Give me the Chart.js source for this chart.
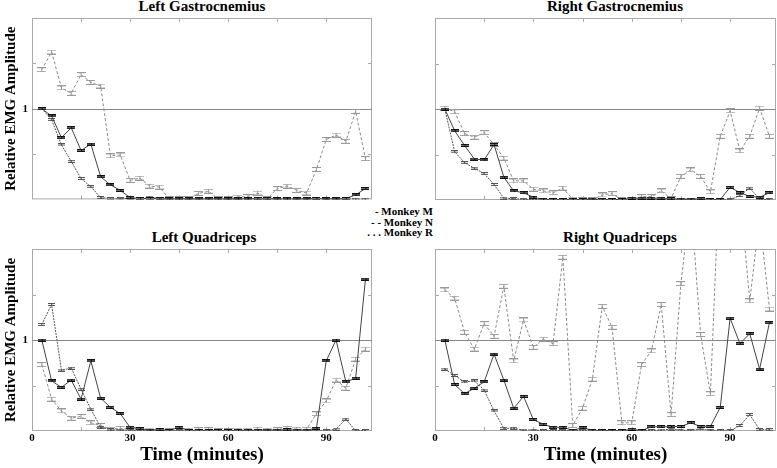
<!DOCTYPE html>
<html>
<head>
<meta charset="utf-8">
<script src="https://cdn.jsdelivr.net/npm/chart.js@4.4.0/dist/chart.umd.min.js"></script>
<style>
body{margin:0;background:#fff;width:777px;height:468px;overflow:hidden;position:relative;font-family:"Liberation Serif","Times New Roman",serif;font-weight:bold;color:#000;}
canvas{position:absolute;}
.titulo{position:absolute;font-size:15px;line-height:15px;white-space:nowrap;transform:translateX(-50%);}
#leyenda{position:absolute;right:344px;top:206px;font-size:11px;line-height:10.5px;text-align:right;white-space:nowrap;}
</style>
</head>
<body>
<div class="titulo" style="left:202px;top:-1px">Left Gastrocnemius</div>
<div class="titulo" style="left:615px;top:-1px">Right Gastrocnemius</div>
<div class="titulo" style="left:204px;top:230px">Left Quadriceps</div>
<div class="titulo" style="left:620px;top:230px">Right Quadriceps</div>
<div id="leyenda">- Monkey M<br>- - Monkey N<br>. . . Monkey R</div>
<canvas id="cLG" width="380" height="210" style="left:0;top:0"></canvas>
<canvas id="cRG" width="377" height="210" style="left:400px;top:0"></canvas>
<canvas id="cLQ" width="380" height="238" style="left:0;top:230px"></canvas>
<canvas id="cRQ" width="377" height="238" style="left:400px;top:230px"></canvas>
<script>
var minutos = [3,6,9,12,15,18,21,24,27,30,33,36,39,42,45,48,51,54,57,60,63,66,69,72,75,78,81,84,87,90,93,96,99,102];
var marcasX = [15,30,45,60,75,90];
var marcasY = [0.5,1.5];
var etiquetasX = [0,30,60,90];
var etiquetasY = [1];
var lineaRef = 1;

var leftGastroM = [1.00,0.92,0.68,0.79,0.54,0.61,0.25,0.16,0.10,0.02,0.01,0.01,0.01,0.005,0.005,0.005,0.005,0.005,0.005,0.005,0.005,0.005,0.01,0.01,0.005,0.005,0.005,0.005,0.01,0.005,0.005,0.01,0.05,0.12];
var leftGastroN = [1.43,1.625,1.23,1.17,1.375,1.29,1.25,0.48,0.49,0.21,0.235,0.147,0.136,0.005,0.005,0.01,0.066,0.09,0.005,0.005,0.025,0.03,0.07,0.01,0.12,0.147,0.10,0.07,0.33,0.66,0.71,0.64,0.97,0.45];
var leftGastroR = [1.00,0.88,0.60,0.42,0.23,0.14,0.02,0.01,0.005,0.015,0.005,0.025,0.005,0.003,0.003,0.003,0.003,0.003,0.003,0.003,0.003,0.003,0.003,0.003,0.003,0.003,0.003,0.005,0.01,0.01,0.005,0.003,0.003,0.003];

var rightGastroM = [1.00,0.76,0.60,0.45,0.44,0.61,0.25,0.10,0.08,0.03,0.007,0.005,0.005,0.005,0.005,0.01,0.005,0.005,0.005,0.02,0.02,0.02,0.02,0.015,0.01,0.01,0.015,0.005,0.005,0.14,0.08,0.04,0.03,0.08];
var rightGastroN = [1.01,0.97,0.73,0.69,0.74,0.61,0.46,0.21,0.21,0.12,0.10,0.08,0.13,0.01,0.003,0.003,0.055,0.07,0.003,0.003,0.037,0.037,0.10,0.015,0.26,0.33,0.26,0.09,0.70,0.98,0.54,0.70,1.01,0.70];
var rightGastroR = [1.00,0.53,0.41,0.35,0.29,0.17,0.02,0.015,0.007,0.005,0.003,0.003,0.005,0.005,0.003,0.003,0.005,0.003,0.003,0.003,0.005,0.005,0.01,0.005,0.005,0.005,0.005,0.005,0.003,0.003,0.05,0.13,0.01,0.003];

var leftQuadM = [1.00,0.55,0.48,0.56,0.35,0.77,0.36,0.26,0.19,0.04,0.026,0.01,0.015,0.005,0.04,0.005,0.005,0.005,0.005,0.005,0.008,0.008,0.008,0.01,0.01,0.015,0.01,0.01,0.03,0.77,1.00,0.54,0.58,1.67];
var leftQuadN = [0.73,0.35,0.22,0.14,0.16,0.09,0.06,0.02,0.03,0.02,0.015,0.01,0.01,0.005,0.005,0.01,0.015,0.015,0.005,0.005,0.01,0.01,0.02,0.01,0.015,0.03,0.02,0.02,0.19,0.33,0.56,0.47,0.79,0.90];
var leftQuadR = [1.17,1.39,0.67,0.69,0.46,0.24,0.04,0.015,0.01,0.008,0.005,0.003,0.003,0.003,0.003,0.003,0.003,0.003,0.003,0.003,0.003,0.003,0.003,0.003,0.003,0.003,0.003,0.003,0.003,0.003,0.02,0.13,0.003,0.005];

var rightQuadM = [1.00,0.51,0.41,0.47,0.54,0.845,0.56,0.25,0.38,0.125,0.074,0.04,0.04,0.007,0.037,0.007,0.004,0.003,0.003,0.02,0.003,0.048,0.048,0.048,0.05,0.09,0.05,0.05,0.26,1.24,0.96,1.07,0.68,1.19];
var rightQuadN = [1.55,1.46,1.085,0.90,1.18,1.04,1.59,0.77,1.22,0.92,1.01,0.96,1.91,0.06,0.25,0.57,1.37,1.14,0.09,0.09,0.73,0.88,1.39,0.18,1.62,2.55,1.06,0.41,3.05,2.9,2.62,1.43,2.35,1.34];
var rightQuadR = [0.68,0.61,0.54,0.55,0.45,0.22,0.03,0.03,0.01,0.01,0.005,0.005,0.005,0.005,0.005,0.005,0.005,0.005,0.005,0.005,0.005,0.005,0.01,0.02,0.01,0.005,0.026,0.005,0.003,0.003,0.06,0.18,0.015,0.015];

var fuente = "'Liberation Serif', 'Times New Roman', serif";

// little error-bar glyphs used as point styles
function marcador(ancho, alto, color, relleno)
{
    var c = document.createElement('canvas');
    c.width = ancho;
    c.height = alto;
    var g = c.getContext('2d');
    if(relleno)
    {
        g.fillStyle = relleno;
        g.fillRect(0, 1, ancho, alto - 2);
    }
    g.fillStyle = color;
    g.fillRect(0, 0, ancho, 1);
    g.fillRect(0, alto - 1, ancho, 1);
    g.fillRect(Math.floor(ancho / 2), 0, 1, alto);
    return c;
}
var marcaM = marcador(8, 3, '#111', '#777');
var marcaN = marcador(9, 5, '#999', null);
var marcaR = marcador(7, 3, '#555', null);

var marco = {
    id: 'marco',
    beforeDatasetsDraw: function(chart)
    {
        var ctx = chart.ctx;
        var a = chart.chartArea;
        var sx = chart.scales.x;
        var sy = chart.scales.y;
        ctx.save();
        ctx.lineWidth = 1;
        ctx.strokeStyle = '#aaa';
        ctx.strokeRect(a.left + 0.5, a.top + 0.5, a.right - a.left - 1, a.bottom - a.top - 1);
        ctx.beginPath();
        for(var i = 0; i < marcasX.length; i++)
        {
            var x = Math.round(sx.getPixelForValue(marcasX[i])) + 0.5;
            ctx.moveTo(x, a.top);
            ctx.lineTo(x, a.top + 4);
            ctx.moveTo(x, a.bottom);
            ctx.lineTo(x, a.bottom - 4);
        }
        for(var j = 0; j < marcasY.length; j++)
        {
            var y = Math.round(sy.getPixelForValue(marcasY[j])) + 0.5;
            ctx.moveTo(a.left, y);
            ctx.lineTo(a.left + 4, y);
            ctx.moveTo(a.right, y);
            ctx.lineTo(a.right - 4, y);
        }
        ctx.stroke();
        var y1 = Math.round(sy.getPixelForValue(lineaRef)) + 0.5;
        ctx.strokeStyle = '#888';
        ctx.beginPath();
        ctx.moveTo(a.left, y1);
        ctx.lineTo(a.right, y1);
        ctx.stroke();
        ctx.restore();
    }
};

function crearPanel(id, serieM, serieN, serieR, conEjeY, conEjeX, anchoY, altoX, arriba, derecha)
{
    var ctx = document.getElementById(id);
    new Chart(ctx, {
        type: 'line',
        data: {
            labels: minutos,
            datasets: [
                {label: 'Monkey M', data: serieM, borderColor: '#444', borderWidth: 1, pointStyle: marcaM, pointRadius: 3, tension: 0},
                {label: 'Monkey R', data: serieR, borderColor: '#555', borderWidth: 1, borderDash: [2, 1], pointStyle: marcaR, pointRadius: 3, tension: 0},
                {label: 'Monkey N', data: serieN, borderColor: '#8a8a8a', borderWidth: 1, borderDash: [3, 2], pointStyle: marcaN, pointRadius: 3, tension: 0}
            ]
        },
        options: {
            animation: false,
            responsive: false,
            events: [],
            layout: {autoPadding: false, padding: {top: arriba, right: derecha}},
            plugins: {legend: {display: false}, tooltip: {enabled: false}},
            scales: {
                x: {
                    type: 'linear',
                    min: 0,
                    max: 104,
                    afterFit: function(s) { s.height = altoX; },
                    afterBuildTicks: function(s) { s.ticks = etiquetasX.map(function(v) { return {value: v}; }); },
                    grid: {display: false, drawTicks: false},
                    border: {display: false},
                    ticks: {display: conEjeX, padding: 1, color: '#000', maxRotation: 0, autoSkip: false,
                        font: {family: fuente, size: 11, weight: 'bold'}},
                    title: {display: conEjeX, text: 'Time (minutes)', color: '#000',
                        font: {family: fuente, size: 19, weight: 'bold', lineHeight: 1.2}, padding: {top: 0, bottom: 2}}
                },
                y: {
                    min: 0,
                    max: 2,
                    afterFit: function(s) { s.width = anchoY; },
                    afterBuildTicks: function(s) { s.ticks = etiquetasY.map(function(v) { return {value: v}; }); },
                    grid: {display: false, drawTicks: false},
                    border: {display: false},
                    ticks: {display: conEjeY, padding: 4, color: '#000',
                        font: {family: fuente, size: 11, weight: 'bold'}},
                    title: {display: conEjeY, text: 'Relative EMG Amplitude', color: '#000',
                        font: {family: fuente, size: 15, weight: 'bold', lineHeight: 1.2}, padding: {top: 2, bottom: 0}}
                }
            }
        },
        plugins: [marco]
    });
}

crearPanel('cLG', leftGastroM, leftGastroN, leftGastroR, true, false, 32, 10, 18, 8);
crearPanel('cRG', rightGastroM, rightGastroN, rightGastroR, false, false, 35, 10, 18, 1);
crearPanel('cLQ', leftQuadM, leftQuadN, leftQuadR, true, true, 32, 37, 19, 8);
crearPanel('cRQ', rightQuadM, rightQuadN, rightQuadR, false, true, 35, 37, 19, 1);
</script>
</body>
</html>
